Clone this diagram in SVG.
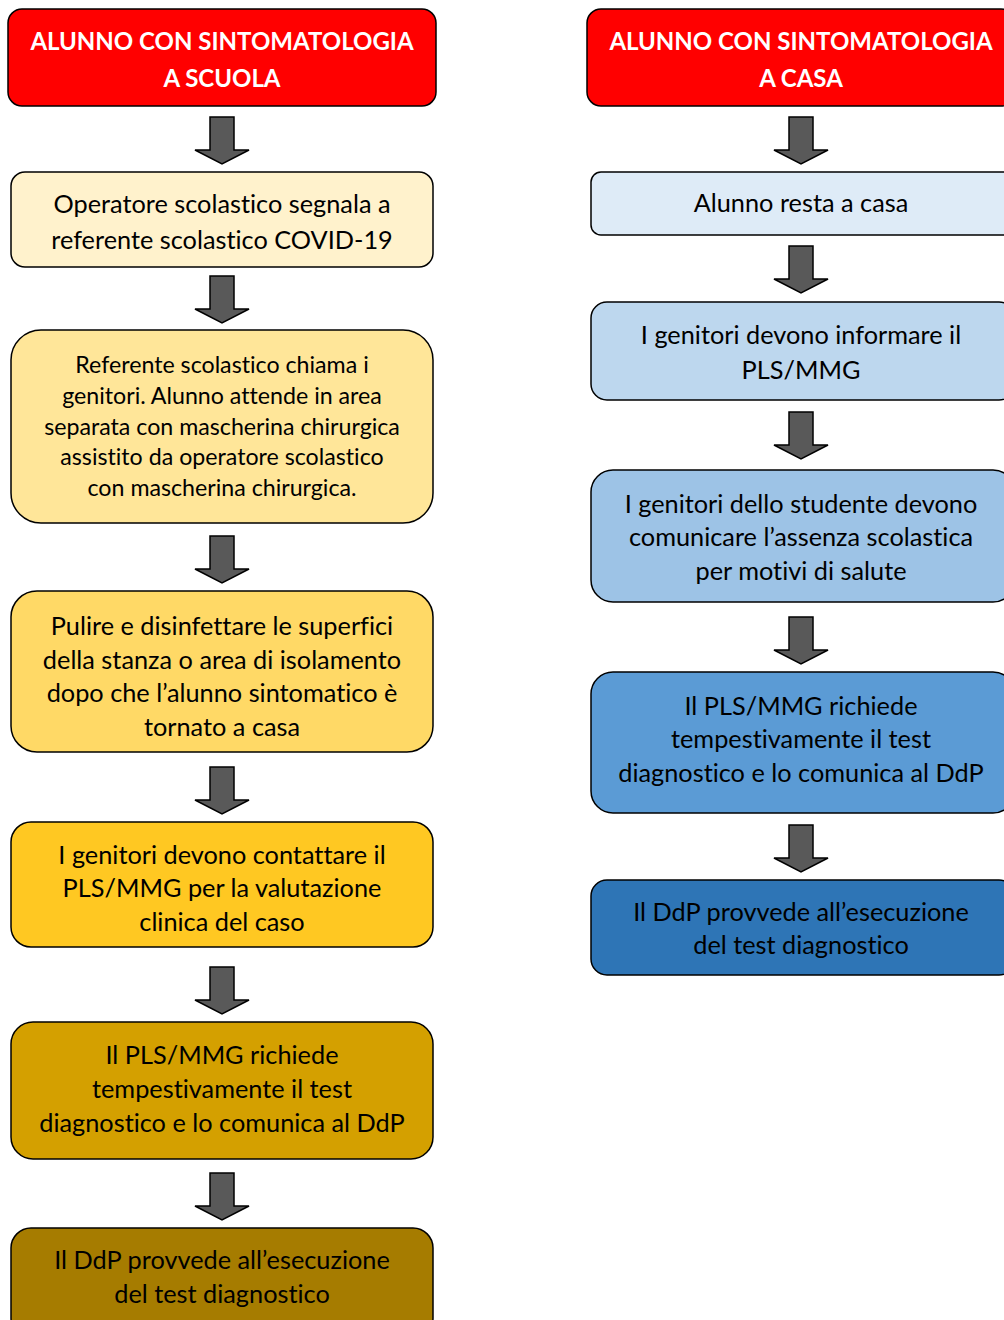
<svg xmlns="http://www.w3.org/2000/svg" width="1004" height="1320" viewBox="0 0 1004 1320">
<defs>
<style>
.box{stroke:#000;stroke-width:1.5}
.t{font-family:Lato,"Open Sans","Liberation Sans",sans-serif;font-size:25.3px;fill:#000;text-anchor:middle;dominant-baseline:central;font-variant-ligatures:none;font-feature-settings:"liga" 0}
.s{font-size:23.2px}
.h{font-weight:bold;fill:#fff;font-size:24px}
.arr{fill:#595959;stroke:#000;stroke-width:1.5;stroke-linejoin:miter}
</style>
<path id="arrow" d="M-12,0 H12 V33 H27 L0,47 L-27,33 H-12 Z"/>
</defs>
<rect width="1004" height="1320" fill="#fff"/>
<g id="connectors">
<use href="#arrow" class="arr" x="222" y="117"/>
<use href="#arrow" class="arr" x="222" y="276"/>
<use href="#arrow" class="arr" x="222" y="536"/>
<use href="#arrow" class="arr" x="222" y="767"/>
<use href="#arrow" class="arr" x="222" y="967"/>
<use href="#arrow" class="arr" x="222" y="1173"/>
<use href="#arrow" class="arr" x="801" y="117"/>
<use href="#arrow" class="arr" x="801" y="246"/>
<use href="#arrow" class="arr" x="801" y="412"/>
<use href="#arrow" class="arr" x="801" y="617"/>
<use href="#arrow" class="arr" x="801" y="825"/>
</g>
<g id="l1"><rect class="box" x="8" y="9" width="428" height="97" rx="14" fill="#FF0000"/>
<text class="t h" x="222" y="40">ALUNNO CON SINTOMATOLOGIA</text><text class="t h" x="222" y="77">A SCUOLA</text></g>
<g id="l2"><rect class="box" x="11" y="172" width="422" height="95" rx="14" fill="#FFF2CC"/>
<text class="t" x="222" y="203">Operatore scolastico segnala a</text><text class="t" x="222" y="239">referente scolastico COVID-19</text></g>
<g id="l3"><rect class="box" x="11" y="330" width="422" height="193" rx="30" fill="#FFE699"/>
<text class="t s" x="222" y="364">Referente scolastico chiama i</text><text class="t s" x="222" y="395">genitori. Alunno attende in area</text><text class="t s" x="222" y="426">separata con mascherina chirurgica</text><text class="t s" x="222" y="456">assistito da operatore scolastico</text><text class="t s" x="222" y="487">con mascherina chirurgica.</text></g>
<g id="l4"><rect class="box" x="11" y="591" width="422" height="161" rx="26" fill="#FFD966"/>
<text class="t" x="222" y="625">Pulire e disinfettare le superfici</text><text class="t" x="222" y="659">della stanza o area di isolamento</text><text class="t" x="222" y="692">dopo che l’alunno sintomatico è</text><text class="t" x="222" y="726">tornato a casa</text></g>
<g id="l5"><rect class="box" x="11" y="822" width="422" height="125" rx="20" fill="#FFC822"/>
<text class="t" x="222" y="854">I genitori devono contattare il</text><text class="t" x="222" y="887">PLS/MMG per la valutazione</text><text class="t" x="222" y="921">clinica del caso</text></g>
<g id="l6"><rect class="box" x="11" y="1022" width="422" height="137" rx="22" fill="#D4A000"/>
<text class="t" x="222" y="1054">Il PLS/MMG richiede</text><text class="t" x="222" y="1088">tempestivamente il test</text><text class="t" x="222" y="1122">diagnostico e lo comunica al DdP</text></g>
<g id="l7"><rect class="box" x="11" y="1228" width="422" height="110" rx="20" fill="#A67C00"/>
<text class="t" x="222" y="1259">Il DdP provvede all’esecuzione</text><text class="t" x="222" y="1293">del test diagnostico</text></g>
<g id="r1"><rect class="box" x="587" y="9" width="428" height="97" rx="14" fill="#FF0000"/>
<text class="t h" x="801" y="40">ALUNNO CON SINTOMATOLOGIA</text><text class="t h" x="801" y="77">A CASA</text></g>
<g id="r2"><rect class="box" x="591" y="172" width="424" height="63" rx="10" fill="#DEEBF7"/>
<text class="t" x="801" y="202">Alunno resta a casa</text></g>
<g id="r3"><rect class="box" x="591" y="302" width="424" height="98" rx="16" fill="#BDD7EE"/>
<text class="t" x="801" y="334">I genitori devono informare il</text><text class="t" x="801" y="369">PLS/MMG</text></g>
<g id="r4"><rect class="box" x="591" y="470" width="424" height="132" rx="22" fill="#9DC3E6"/>
<text class="t" x="801" y="503">I genitori dello studente devono</text><text class="t" x="801" y="536">comunicare l’assenza scolastica</text><text class="t" x="801" y="570">per motivi di salute</text></g>
<g id="r5"><rect class="box" x="591" y="672" width="424" height="141" rx="22" fill="#5B9BD5"/>
<text class="t" x="801" y="705">Il PLS/MMG richiede</text><text class="t" x="801" y="738">tempestivamente il test</text><text class="t" x="801" y="772">diagnostico e lo comunica al DdP</text></g>
<g id="r6"><rect class="box" x="591" y="880" width="424" height="95" rx="16" fill="#2E75B6"/>
<text class="t" x="801" y="911">Il DdP provvede all’esecuzione</text><text class="t" x="801" y="944">del test diagnostico</text></g>
</svg>
